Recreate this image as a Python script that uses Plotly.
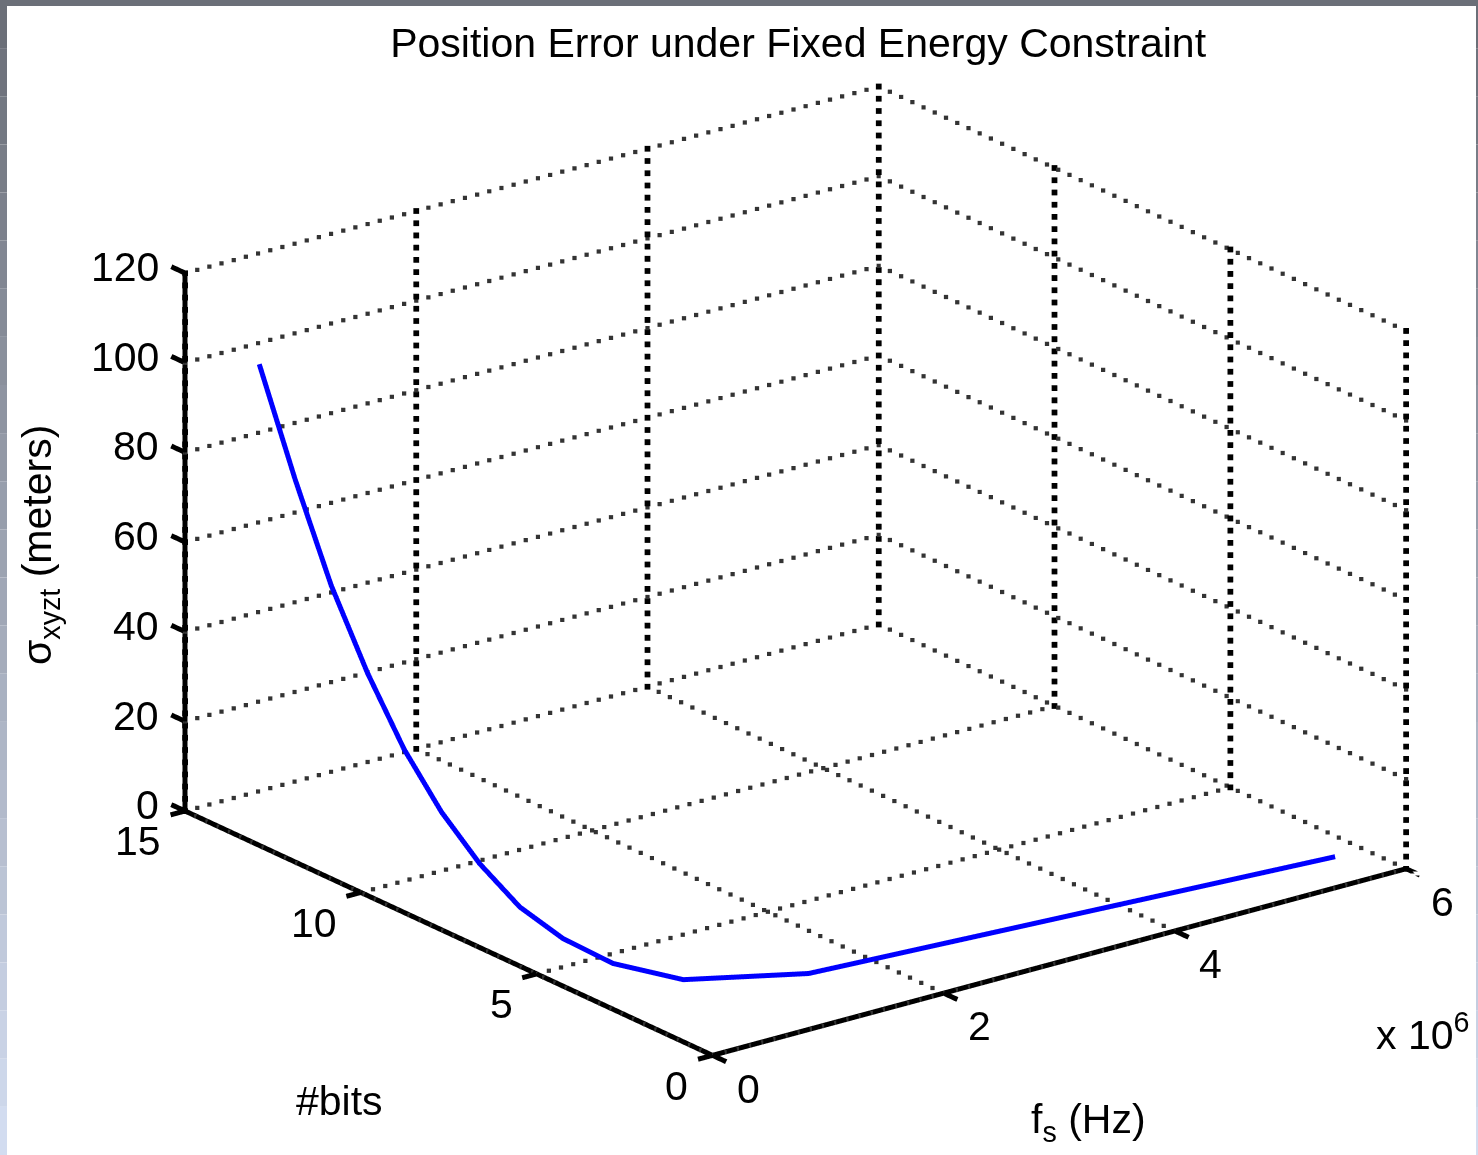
import numpy as np
import plotly.graph_objects as go

# ---- data ----
bits = [1, 2, 3, 4, 5, 6, 7, 8, 9, 10, 11, 12, 13]
fs_hz = [5.69e6, 1.44e6, 0.66e6, 0.356e6, 0.228e6, 0.158e6, 0.116e6,
         0.089e6, 0.070e6, 0.057e6, 0.047e6, 0.040e6, 0.034e6]
sigma_xyzt = [1.2, 1.0, 1.4, 3.5, 6.3, 10.2, 16.5, 24.6, 35.1, 48.6, 64.6, 84.6, 106.7]

fs_ticks = [0, 2e6, 4e6, 6e6]
fs_ticktext = ["0", "2", "4", "6"]
bits_ticks = [0, 5, 10, 15]
sigma_ticks = [0, 20, 40, 60, 80, 100, 120]

FS_MAX, BITS_MAX, Z_MAX = fs_ticks[-1], bits_ticks[-1], sigma_ticks[-1]
FS_TICK, BITS_TICK = 0.125e6, 0.39   # tick-mark lengths in data units

W, H = 1478, 1155
FONT = "Liberation Sans, Arial, sans-serif"
FS = 41

fig = go.Figure()

# dotted grid on the three back planes, drawn as rows of small dots
def dots(store, p, q, n):
    t = np.linspace(0, 1, n)
    for k in range(3):
        store[k].extend(p[k] + (q[k] - p[k]) * t)

flat = ([], [], [])   # horizontal grid lines
vert = ([], [], [])   # vertical grid lines
for f in fs_ticks:                       # floor, constant fs
    dots(flat, (f, 0, 0), (f, BITS_MAX, 0), 48)
for b in bits_ticks:                     # floor, constant bits
    dots(flat, (0, b, 0), (FS_MAX, b, 0), 58)
for z in sigma_ticks:                    # back wall bits=max
    dots(flat, (0, BITS_MAX, z), (FS_MAX, BITS_MAX, z), 58)
for z in sigma_ticks:                    # back wall fs=max
    dots(flat, (FS_MAX, 0, z), (FS_MAX, BITS_MAX, z), 48)
for f in fs_ticks:
    dots(vert, (f, BITS_MAX, 0), (f, BITS_MAX, Z_MAX), 45)
for b in bits_ticks:
    dots(vert, (FS_MAX, b, 0), (FS_MAX, b, Z_MAX), 45)

fig.add_trace(go.Scatter3d(x=flat[0], y=flat[1], z=flat[2], mode="markers",
                           marker=dict(color="#333333", size=2.2, symbol="square",
                                       line=dict(width=0)),
                           hoverinfo="skip", showlegend=False))
fig.add_trace(go.Scatter3d(x=vert[0], y=vert[1], z=vert[2], mode="markers",
                           marker=dict(color="#000000", size=3, symbol="square",
                                       line=dict(width=0)),
                           hoverinfo="skip", showlegend=False))

# axis lines and tick marks
ax_x, ax_y, ax_z = [], [], []
def seg(p, q):
    ax_x.extend([p[0], q[0], None]); ax_y.extend([p[1], q[1], None]); ax_z.extend([p[2], q[2], None])
seg((0, BITS_MAX, 0), (0, BITS_MAX, Z_MAX))
seg((0, 0, 0), (0, BITS_MAX, 0))
seg((0, 0, 0), (FS_MAX, 0, 0))
for z in sigma_ticks:
    seg((0, BITS_MAX, z), (0, BITS_MAX + BITS_TICK, z))
for b in bits_ticks:
    seg((0, b, 0), (-FS_TICK, b, 0))
for f in fs_ticks:
    seg((f, 0, 0), (f, -BITS_TICK, 0))
fig.add_trace(go.Scatter3d(x=ax_x, y=ax_y, z=ax_z, mode="lines",
                           line=dict(color="black", width=10),
                           hoverinfo="skip", showlegend=False))

# data curve
fig.add_trace(go.Scatter3d(x=fs_hz, y=bits, z=sigma_xyzt, mode="lines",
                           line=dict(color="#0000ff", width=10),
                           showlegend=False))

hidden = dict(showgrid=False, zeroline=False, showbackground=False, showspikes=False,
              showline=False, showticklabels=False, ticks="", title=dict(text=""))

tick_font = dict(family=FONT, size=FS, color="black")
scene_ann = []
for z in sigma_ticks:
    scene_ann.append(dict(x=0, y=BITS_MAX, z=z, text=str(z), showarrow=False,
                          xanchor="right", yanchor="middle", xshift=-24, yshift=6,
                          font=tick_font))
for b in bits_ticks:
    scene_ann.append(dict(x=0, y=b, z=0, text=str(b), showarrow=False,
                          xanchor="right", yanchor="middle", xshift=-22, yshift=-30,
                          font=tick_font))
for f, t in zip(fs_ticks, fs_ticktext):
    scene_ann.append(dict(x=f, y=0, z=0, text=t, showarrow=False,
                          xanchor="center", yanchor="middle", xshift=36, yshift=-33,
                          font=tick_font))

K = 1.57
fig.update_layout(
    width=W, height=H,
    margin=dict(l=0, r=0, t=0, b=0),
    paper_bgcolor="white",
    title=dict(text="Position Error under Fixed Energy Constraint",
               x=0.540, y=1 - 43 / H, xanchor="center", yanchor="middle",
               font=dict(family=FONT, size=FS, color="black")),
    scene=dict(
        domain=dict(x=[0.0608, 1.0], y=[0.0058, 1.0]),
        xaxis=dict(range=[-0.2e6, FS_MAX], **hidden),
        yaxis=dict(range=[-0.5, BITS_MAX + 0.5], **hidden),
        zaxis=dict(range=[0, Z_MAX], **hidden),
        aspectmode="manual",
        aspectratio=dict(x=1.0 * K, y=1.03 * K, z=0.638 * K),
        camera=dict(projection=dict(type="orthographic"),
                    up=dict(x=0, y=0, z=1),
                    center=dict(x=0, y=0, z=0),
                    eye=dict(x=-0.567 * 2, y=-0.744 * 2, z=0.353 * 2)),
        annotations=scene_ann,
    ),
    hovermode=False,
)

ann_font = dict(family=FONT, size=FS, color="black")
fig.add_annotation(text="σ<sub>xyzt</sub> (meters)", xref="paper", yref="paper",
                   x=40 / W, y=1 - 545 / H, showarrow=False, textangle=-90,
                   xanchor="center", yanchor="middle", font=ann_font)
fig.add_annotation(text="#bits", xref="paper", yref="paper",
                   x=339 / W, y=1 - 1101 / H, showarrow=False,
                   xanchor="center", yanchor="middle", font=ann_font)
fig.add_annotation(text="f<sub>s</sub> (Hz)", xref="paper", yref="paper",
                   x=1088 / W, y=1 - 1122 / H, showarrow=False,
                   xanchor="center", yanchor="middle", font=ann_font)
fig.add_annotation(text="x 10<sup>6</sup>", xref="paper", yref="paper",
                   x=1422 / W, y=1 - 1032 / H, showarrow=False,
                   xanchor="center", yanchor="middle", font=ann_font)

# screenshot frame (top band and left/right edges)
fig.add_shape(type="rect", xref="paper", yref="paper", x0=0, x1=1, y0=1 - 6 / H, y1=1,
              fillcolor="#6b6f78", line=dict(width=0), layer="above")
n = 24
for i in range(n):
    t = i / (n - 1)
    r = int(0x6b + (0xd2 - 0x6b) * t); g = int(0x6f + (0xdc - 0x6f) * t); b = int(0x78 + (0xf0 - 0x78) * t)
    col = f"rgb({r},{g},{b})"
    y1 = 1 - i / n
    y0 = 1 - (i + 1) / n
    fig.add_shape(type="rect", xref="paper", yref="paper", x0=0, x1=7 / W, y0=y0, y1=y1,
                  fillcolor=col, line=dict(width=0), layer="above")
    fig.add_shape(type="rect", xref="paper", yref="paper", x0=1 - 2 / W, x1=1, y0=y0, y1=y1,
                  fillcolor=col, line=dict(width=0), layer="above")

fig.write_html("out.html", config={"displayModeBar": False},
               post_script="document.body.style.margin='0';")
